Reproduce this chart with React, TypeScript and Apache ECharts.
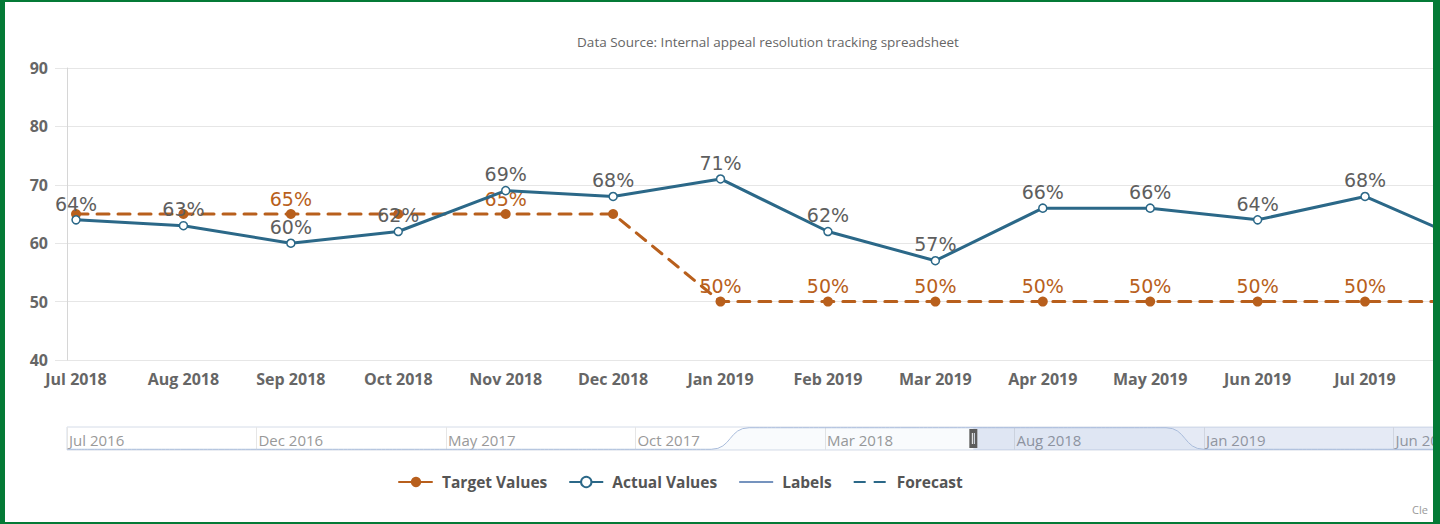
import React, { useEffect, useRef } from 'react';
import * as echarts from 'echarts';

// ---------- data ----------
const months = [
  'Jul 2018', 'Aug 2018', 'Sep 2018', 'Oct 2018', 'Nov 2018', 'Dec 2018',
  'Jan 2019', 'Feb 2019', 'Mar 2019', 'Apr 2019', 'May 2019', 'Jun 2019',
  'Jul 2019', 'Aug 2019',
];
const actualValues = [64, 63, 60, 62, 69, 68, 71, 62, 57, 66, 66, 64, 68, 60];
const targetValues = [65, 65, 65, 65, 65, 65, 50, 50, 50, 50, 50, 50, 50, 50];
// target labels that the original chart hides (overlap with actual labels)
const hiddenTargetLabels = [0, 1, 3, 5];

const navigatorMonths = [
  'Jul 2016', 'Aug 2016', 'Sep 2016', 'Oct 2016', 'Nov 2016', 'Dec 2016',
  'Jan 2017', 'Feb 2017', 'Mar 2017', 'Apr 2017', 'May 2017', 'Jun 2017',
  'Jul 2017', 'Aug 2017', 'Sep 2017', 'Oct 2017', 'Nov 2017', 'Dec 2017',
  'Jan 2018', 'Feb 2018', 'Mar 2018', 'Apr 2018', 'May 2018', 'Jun 2018',
  'Jul 2018', 'Aug 2018', 'Sep 2018', 'Oct 2018', 'Nov 2018', 'Dec 2018',
  'Jan 2019', 'Feb 2019', 'Mar 2019', 'Apr 2019', 'May 2019', 'Jun 2019',
  'Jul 2019', 'Aug 2019',
];
const navigatorValues = [
  50, 50, 50, 50, 50, 50,
  50, 50, 50, 50, 50, 50,
  50, 50, 50, 50, 50, 50,
  65, 65, 65, 65, 65, 65,
  65, 65, 65, 65, 65, 65,
  50, 50, 50, 50, 50, 50,
  50, 50,
];
const navigatorTickLabels = [
  'Jul 2016', 'Dec 2016', 'May 2017', 'Oct 2017', 'Mar 2018', 'Aug 2018', 'Jan 2019', 'Jun 2019',
];
const yTicks = { min: 40, max: 90, interval: 10 };
const legendNames = ['Target Values', 'Actual Values', 'Labels', 'Forecast'];
const titleText = 'Data Source: Internal appeal resolution tracking spreadsheet';

// ---------- view window ----------
const mainMin = -0.084;
const mainMax = 12.698;
const navMin = 0;
const navMax = 36.23;
const windowStart = navigatorMonths.indexOf(months[0]) + mainMin;

const ORANGE = '#b85f1c';
const BLUE = '#2b6888';
const GREEN = '#047a36';

export default function App() {
  const ref = useRef<HTMLDivElement>(null);

  useEffect(() => {
    document.body.style.margin = '0';
    if (!ref.current) return;
    const chart = echarts.init(ref.current, undefined, { renderer: 'svg' });

    const labelFont = 'DejaVu Sans';
    const uiFont = 'Open Sans';

    const option: any = {
      animation: false,
      backgroundColor: '#ffffff',
      grid: [
        { left: 67, top: 68, width: 1373, height: 292, outerBoundsMode: 'none', containLabel: false },
        {
          left: 67, top: 427, width: 1373, height: 23, outerBoundsMode: 'none', containLabel: false,
          show: true, borderColor: '#d5dce8', borderWidth: 1, backgroundColor: 'transparent',
        },
      ],
      xAxis: [
        {
          type: 'value', gridIndex: 0, min: mainMin, max: mainMax,
          axisLine: { show: false, onZero: false },
          axisTick: { show: false },
          splitLine: { show: false },
          axisLabel: {
            customValues: months.map((_, i) => i).filter((i) => i <= mainMax),
            formatter: (v: number) => months[Math.round(v)] ?? '',
            color: '#666666', fontWeight: 'bold', fontSize: 16, fontFamily: uiFont, margin: 11,
          },
        },
        {
          type: 'value', gridIndex: 1, min: navMin, max: navMax, interval: 5,
          axisLine: { show: false, onZero: false },
          axisTick: { show: false },
          splitLine: { show: true, lineStyle: { color: '#e6e6e6', width: 1 } },
          axisLabel: {
            customValues: navigatorTickLabels.map((l) => navigatorMonths.indexOf(l)),
            formatter: (v: number) => navigatorMonths[Math.round(v)] ?? '',
            color: '#999999', fontSize: 15, fontFamily: uiFont,
            align: 'left', verticalAlign: 'middle', margin: -10, padding: [0, 0, 0, 2],
          },
        },
      ],
      yAxis: [
        {
          type: 'value', gridIndex: 0, min: yTicks.min, max: yTicks.max, interval: yTicks.interval,
          axisLine: { show: true, onZero: false, lineStyle: { color: '#d6d6d6', width: 1 } },
          axisTick: { show: true, length: 12, lineStyle: { color: '#e6e6e6', width: 1 } },
          splitLine: { show: true, lineStyle: { color: '#e6e6e6', width: 1 } },
          axisLabel: {
            color: '#666666', fontWeight: 'bold', fontSize: 16, fontFamily: uiFont, margin: 19,
          },
        },
        { type: 'value', gridIndex: 1, min: 49.5, max: 65.5, show: false },
      ],
      legend: {
        left: 393, top: 469,
        itemWidth: 34, itemHeight: 13, itemGap: 21,
        data: legendNames,
        textStyle: {
          fontFamily: uiFont, fontWeight: 'bold', fontSize: 15.5, color: '#555555',
          padding: [0, 0, 0, 4],
        },
      },
      series: [
        {
          name: 'Target Values', type: 'line', xAxisIndex: 0, yAxisIndex: 0,
          data: targetValues.map((v, i) => ({
            value: [i, v],
            label: { show: !hiddenTargetLabels.includes(i) },
          })),
          color: ORANGE,
          symbol: 'circle', symbolSize: 10,
          itemStyle: { color: ORANGE },
          lineStyle: { color: ORANGE, width: 3, type: [12, 9], cap: 'round' },
          label: {
            show: true, position: 'top', distance: 1,
            formatter: (p: any) => p.value[1] + '%',
            color: ORANGE, fontSize: 19, fontFamily: labelFont,
          },
          z: 2,
        },
        {
          name: 'Actual Values', type: 'line', xAxisIndex: 0, yAxisIndex: 0,
          data: actualValues.map((v, i) => [i, v]),
          color: BLUE,
          symbol: 'circle', symbolSize: 8, showAllSymbol: true,
          itemStyle: { color: '#ffffff', borderColor: BLUE, borderWidth: 1.5 },
          lineStyle: { color: BLUE, width: 3 },
          label: {
            show: true, position: 'top', distance: 2,
            formatter: (p: any) => p.value[1] + '%',
            color: '#5e5e5e', fontSize: 19, fontFamily: labelFont,
          },
          z: 3,
        },
        {
          name: 'Labels', type: 'line', xAxisIndex: 0, yAxisIndex: 0,
          data: [],
          color: '#7593be',
          symbol: 'circle', symbolSize: 0,
          itemStyle: { color: 'rgba(0,0,0,0)', borderWidth: 0 },
          lineStyle: { color: '#7593be', width: 1.5 },
        },
        {
          name: 'Forecast', type: 'line', xAxisIndex: 0, yAxisIndex: 0,
          data: [],
          color: BLUE,
          symbol: 'circle', symbolSize: 0,
          itemStyle: { color: 'rgba(0,0,0,0)', borderWidth: 0 },
          lineStyle: { color: BLUE, width: 3, type: [12, 8] },
        },
        {
          name: 'navigator', type: 'line', xAxisIndex: 1, yAxisIndex: 1,
          data: navigatorValues.map((v, i) => [i, v]),
          smooth: 0.5,
          symbol: 'none',
          silent: true,
          lineStyle: { color: '#a9bcdb', width: 1 },
          areaStyle: { color: 'rgba(51,92,173,0.04)', origin: 'start' },
          markArea: {
            silent: true,
            itemStyle: { color: 'rgba(102,133,194,0.17)' },
            data: [[{ xAxis: windowStart }, { xAxis: navMax }]],
          },
          markPoint: {
            silent: true,
            symbol: 'path://M0,0H8V19H0Z M2.5,4V15H3.5V4Z M4.5,4V15H5.5V4Z',
            symbolSize: [8, 19],
            symbolKeepAspect: false,
            itemStyle: { color: '#5c5c5c' },
            label: { show: false },
            data: [{ coord: [windowStart, 57.5] }],
          },
        },
      ],
      graphic: [
        {
          type: 'text', x: 768, y: 42, z: 10,
          style: {
            text: titleText, textAlign: 'center', textVerticalAlign: 'middle',
            fill: '#666666', font: `13.5px "${uiFont}"`,
          },
        },
        {
          type: 'text', x: 1412, y: 509, z: 10,
          style: {
            text: 'Cle', textAlign: 'left', textVerticalAlign: 'middle',
            fill: '#999999', font: `11px "${uiFont}"`,
          },
        },
        { type: 'rect', z: 100, shape: { x: 0, y: 0, width: 5, height: 524 }, style: { fill: GREEN } },
        { type: 'rect', z: 100, shape: { x: 0, y: 0, width: 1440, height: 2 }, style: { fill: GREEN } },
        { type: 'rect', z: 100, shape: { x: 1433, y: 0, width: 7, height: 524 }, style: { fill: GREEN } },
        { type: 'rect', z: 100, shape: { x: 0, y: 522, width: 1440, height: 2 }, style: { fill: GREEN } },
      ],
    };

    chart.setOption(option);
    return () => chart.dispose();
  }, []);

  return <div ref={ref} style={{ width: 1440, height: 524 }} />;
}
